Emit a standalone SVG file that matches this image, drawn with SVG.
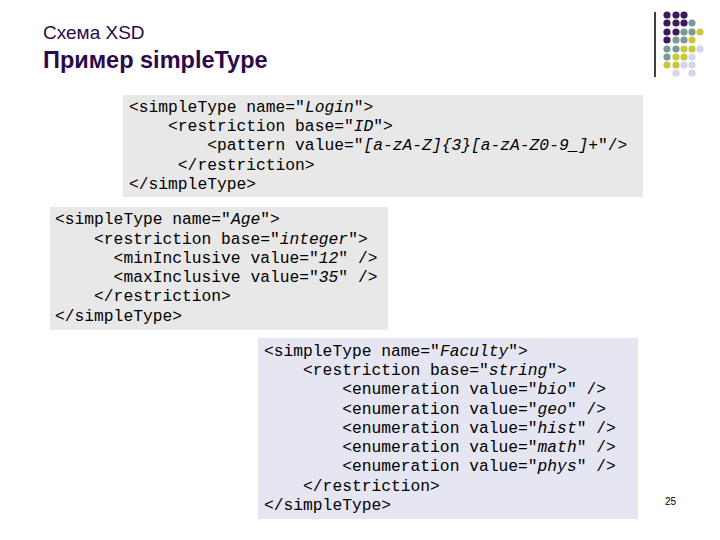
<svg xmlns="http://www.w3.org/2000/svg" width="720" height="540" viewBox="0 0 720 540">
<style>
.c{font-family:"Courier New","Liberation Mono",Cousine,monospace;font-size:16.3px;fill:#000;white-space:pre}
.i{font-style:italic}
.P{fill:#3c1a5c}.T{fill:#7a9a9a}.Y{fill:#c8c83c}.L{fill:#d4d4ea}
</style>
<rect width="720" height="540" fill="#fff"/>
<text x="43" y="39" font-family="Liberation Sans,Arial,sans-serif" font-size="19" fill="#2a0a4a">Схема XSD</text>
<text x="43" y="68" font-family="Liberation Sans,Arial,sans-serif" font-size="23.5" font-weight="bold" fill="#2a0a4a">Пример simpleType</text>
<g id="logo">
<line x1="655" y1="12" x2="655" y2="77" stroke="#000" stroke-width="1.5"/>
<g>
<circle class="P" cx="667" cy="15" r="3.6"/><circle class="P" cx="676" cy="15" r="3.6"/><circle class="P" cx="684" cy="15" r="3.6"/>
<circle class="P" cx="667" cy="23" r="3.6"/><circle class="P" cx="676" cy="23" r="3.6"/><circle class="P" cx="684" cy="23" r="3.6"/><circle class="T" cx="692" cy="23" r="3.6"/>
<circle class="P" cx="667" cy="32" r="3.6"/><circle class="P" cx="676" cy="32" r="3.6"/><circle class="T" cx="684" cy="32" r="3.6"/><circle class="T" cx="692" cy="32" r="3.6"/><circle class="Y" cx="700" cy="32" r="3.6"/>
<circle class="P" cx="667" cy="40" r="3.6"/><circle class="T" cx="676" cy="40" r="3.6"/><circle class="T" cx="684" cy="40" r="3.6"/><circle class="Y" cx="692" cy="40" r="3.6"/>
<circle class="T" cx="667" cy="49" r="3.6"/><circle class="T" cx="676" cy="49" r="3.6"/><circle class="Y" cx="684" cy="49" r="3.6"/><circle class="Y" cx="692" cy="49" r="3.6"/><circle class="L" cx="700" cy="49" r="3.6"/>
<circle class="T" cx="667" cy="57" r="3.6"/><circle class="Y" cx="676" cy="57" r="3.6"/><circle class="Y" cx="684" cy="57" r="3.6"/><circle class="L" cx="692" cy="57" r="3.6"/>
<circle class="Y" cx="667" cy="65" r="3.6"/><circle class="Y" cx="676" cy="65" r="3.6"/><circle class="L" cx="684" cy="65" r="3.6"/><circle class="L" cx="692" cy="65" r="3.6"/>
<circle class="L" cx="676" cy="73" r="3.6"/><circle class="L" cx="692" cy="73" r="3.6"/>
</g>
</g>
<g id="login">
<rect x="123" y="95" width="520" height="102" fill="#e8e8e8"/>
<text class="c" x="129" y="112">&lt;simpleType name="<tspan class="i">Login</tspan>"&gt;</text>
<text class="c" x="129" y="131">    &lt;restriction base="<tspan class="i">ID</tspan>"&gt;</text>
<text class="c" x="129" y="150">        &lt;pattern value="<tspan class="i">[a-zA-Z]{3}[a-zA-Z0-9_]+</tspan>"/&gt;</text>
<text class="c" x="129" y="170">     &lt;/restriction&gt;</text>
<text class="c" x="129" y="189">&lt;/simpleType&gt;</text>
</g>
<g id="age">
<rect x="50" y="207" width="338" height="123" fill="#e8e8e8"/>
<text class="c" x="55" y="224">&lt;simpleType name="<tspan class="i">Age</tspan>"&gt;</text>
<text class="c" x="55" y="244">    &lt;restriction base="<tspan class="i">integer</tspan>"&gt;</text>
<text class="c" x="55" y="263">      &lt;minInclusive value="<tspan class="i">12</tspan>" /&gt;</text>
<text class="c" x="55" y="282">      &lt;maxInclusive value="<tspan class="i">35</tspan>" /&gt;</text>
<text class="c" x="55" y="301">    &lt;/restriction&gt;</text>
<text class="c" x="55" y="321">&lt;/simpleType&gt;</text>
</g>
<g id="faculty">
<rect x="258" y="338" width="380" height="181" fill="#e6e6f2"/>
<text class="c" x="264" y="356">&lt;simpleType name="<tspan class="i">Faculty</tspan>"&gt;</text>
<text class="c" x="264" y="375">    &lt;restriction base="<tspan class="i">string</tspan>"&gt;</text>
<text class="c" x="264" y="394">        &lt;enumeration value="<tspan class="i">bio</tspan>" /&gt;</text>
<text class="c" x="264" y="414">        &lt;enumeration value="<tspan class="i">geo</tspan>" /&gt;</text>
<text class="c" x="264" y="433">        &lt;enumeration value="<tspan class="i">hist</tspan>" /&gt;</text>
<text class="c" x="264" y="452">        &lt;enumeration value="<tspan class="i">math</tspan>" /&gt;</text>
<text class="c" x="264" y="471">        &lt;enumeration value="<tspan class="i">phys</tspan>" /&gt;</text>
<text class="c" x="264" y="491">    &lt;/restriction&gt;</text>
<text class="c" x="264" y="510">&lt;/simpleType&gt;</text>
</g>
<text x="665" y="505" font-family="Liberation Sans,Arial,sans-serif" font-size="10" fill="#000">25</text>
</svg>
